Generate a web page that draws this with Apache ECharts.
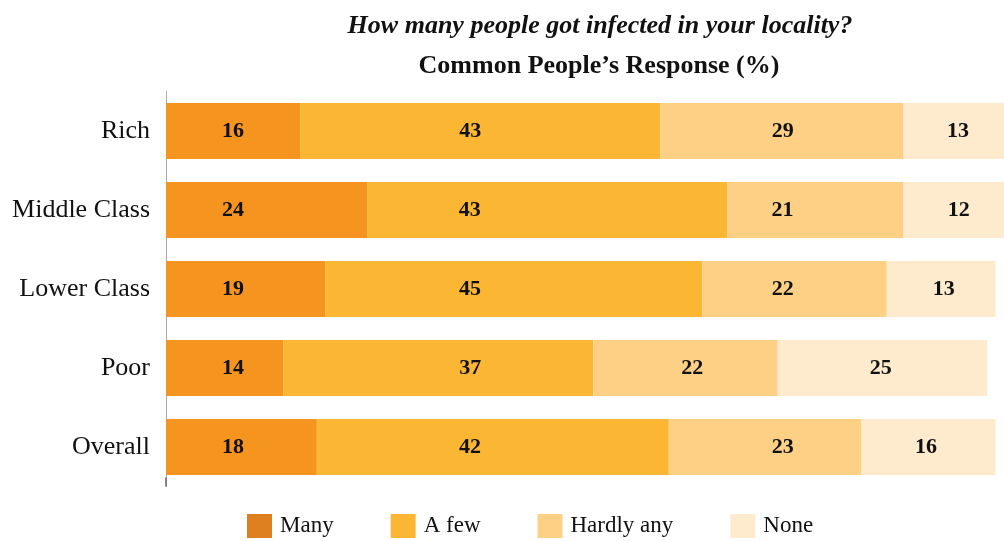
<!DOCTYPE html>
<html>
<head>
<meta charset="utf-8">
<script src="https://cdn.jsdelivr.net/npm/echarts@6/dist/echarts.min.js"></script>
<style>
  html, body { margin: 0; padding: 0; background: #ffffff; }
  #chart { width: 1004px; height: 541px; }
</style>
</head>
<body>
<div id="chart"></div>
<script>
// Survey groups, top to bottom
const categories = ['Rich', 'Middle Class', 'Lower Class', 'Poor', 'Overall'];

// Share of respondents (%) for each answer
const many      = [16, 24, 19, 14, 18];
const aFew      = [43, 43, 45, 37, 42];
const hardlyAny = [29, 21, 22, 22, 23];
const none      = [13, 12, 13, 25, 16];

const seriesNames = ['Many', 'A few', 'Hardly any', 'None'];
const seriesData = [many, aFew, hardlyAny, none];

// Styling
const barColors = ['#F5951F', '#FBB734', '#FDD085', '#FEEACD'];
const legendColors = ['#DE7F20', '#FBB734', '#FDD085', '#FEEACD'];
const serif = '"Liberation Serif", "DejaVu Serif", serif';

// Value labels sit in loose columns rather than at each segment's middle;
// these are the axis values (in %) where each label is centred.
const labelColumns = [
  [8, 8, 8, 8, 8],
  [36.3, 36.3, 36.3, 36.3, 36.3],
  [73.6, 73.6, 73.6, 62.8, 73.6],
  [94.5, 94.6, 92.8, 85.3, 90.7]
];

const AXIS_MAX = 100;
const GRID_LEFT = 166;
const GRID_WIDTH = 842;
const pxPerUnit = GRID_WIDTH / AXIS_MAX;

// Running start of each segment so the label can be shifted from the
// segment's middle to its column.
const starts = seriesData.map((d, s) =>
  d.map((_, c) => seriesData.slice(0, s).reduce((acc, arr) => acc + arr[c], 0))
);

const chart = echarts.init(document.getElementById('chart'), null, { renderer: 'canvas' });

chart.setOption({
  animation: false,
  backgroundColor: '#ffffff',
  title: [
    {
      text: 'How many people got infected in your locality?',
      left: 595,
      textAlign: 'center',
      top: 8,
      textStyle: { fontFamily: serif, fontSize: 26, fontStyle: 'italic', fontWeight: 'bold', color: '#111' }
    },
    {
      text: 'Common People\u2019s Response (%)',
      left: 594,
      textAlign: 'center',
      top: 48,
      textStyle: { fontFamily: serif, fontSize: 26, fontWeight: 'bold', color: '#111' }
    }
  ],
  legend: {
    left: 242,
    bottom: -2,
    itemWidth: 25,
    itemHeight: 24,
    itemGap: 57,
    icon: 'rect',
    textStyle: { fontFamily: serif, fontSize: 23, color: '#111', padding: [0, 0, 0, 3] },
    data: seriesNames.map((n, i) => ({ name: n, itemStyle: { color: legendColors[i] } }))
  },
  grid: {
    left: GRID_LEFT,
    top: 91.5,
    width: GRID_WIDTH,
    height: 395,
    containLabel: false
  },
  xAxis: {
    type: 'value',
    min: 0,
    max: AXIS_MAX,
    splitLine: { show: false },
    axisLine: { show: false },
    axisLabel: { show: false },
    axisTick: {
      show: true,
      inside: true,
      length: 9,
      customValues: [0],
      lineStyle: { color: '#666', width: 1.5 }
    }
  },
  yAxis: {
    type: 'category',
    inverse: true,
    data: categories,
    axisLine: { show: true, lineStyle: { color: '#aaaaaa', width: 1 } },
    axisTick: { show: false },
    axisLabel: { fontFamily: serif, fontSize: 26, color: '#111', margin: 16 }
  },
  series: seriesData.map((d, s) => ({
    name: seriesNames[s],
    type: 'bar',
    stack: 'total',
    clip: false,
    barWidth: 56,
    itemStyle: { color: barColors[s] },
    label: {
      show: true,
      position: 'inside',
      fontFamily: serif,
      fontSize: 22,
      fontWeight: 'bold',
      color: '#111'
    },
    data: d.map((v, c) => ({
      value: v,
      label: {
        offset: [(labelColumns[s][c] - (starts[s][c] + v / 2)) * pxPerUnit, 0]
      }
    }))
  }))
});
</script>
</body>
</html>
